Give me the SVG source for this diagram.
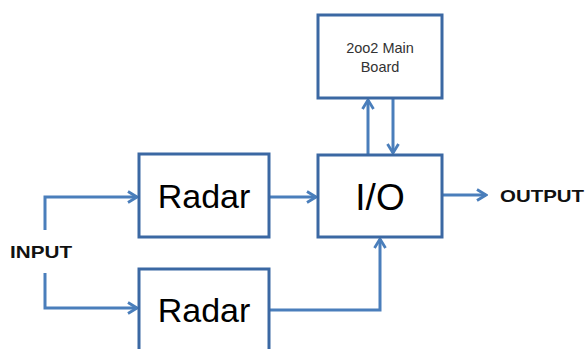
<svg xmlns="http://www.w3.org/2000/svg" width="587" height="349" viewBox="0 0 587 349">
<defs>
<marker id="arr" viewBox="0 0 14 14" refX="12" refY="7" markerWidth="14" markerHeight="14" markerUnits="userSpaceOnUse" orient="auto">
<polyline points="3,1.5 12,7 3,12.5" fill="none" stroke="#4a7ebb" stroke-width="2.8"/>
</marker>
<style>
.box{fill:#fff;stroke:#3b68a3;stroke-width:3}
.ln{fill:none;stroke:#4a7ebb;stroke-width:3}
.big{font-family:"Liberation Sans",Arial,sans-serif;font-size:34px;fill:#000;text-anchor:middle}
.lbl{font-family:"Liberation Sans",Arial,sans-serif;font-size:17px;font-weight:bold;fill:#111}
.sm{font-family:"Liberation Sans",Arial,sans-serif;font-size:14.5px;fill:#333;text-anchor:middle}
</style>
</defs>
<rect width="587" height="349" fill="#fff"/>
<g id="connectors">
<polyline class="ln" points="45,230 45,197 137,197" marker-end="url(#arr)"/>
<polyline class="ln" points="45,273 45,308 137,308" marker-end="url(#arr)"/>
<line class="ln" x1="269" y1="197" x2="316" y2="197" marker-end="url(#arr)"/>
<polyline class="ln" points="269,310 380,310 380,239" marker-end="url(#arr)"/>
<line class="ln" x1="442" y1="195" x2="486" y2="195" marker-end="url(#arr)"/>
<line class="ln" x1="368" y1="155" x2="368" y2="100" marker-end="url(#arr)"/>
<line class="ln" x1="393" y1="98" x2="393" y2="153" marker-end="url(#arr)"/>
</g>
<g id="mainboard">
<rect class="box" x="318" y="15" width="124" height="83"/>
<text class="sm" x="380" y="53">2oo2 Main</text>
<text class="sm" x="380" y="72">Board</text>
</g>
<g id="radar1">
<rect class="box" x="139" y="154" width="130" height="83"/>
<text class="big" x="204" y="208">Radar</text>
</g>
<g id="radar2">
<rect class="box" x="139" y="269" width="130" height="90"/>
<text class="big" x="204" y="322">Radar</text>
</g>
<g id="io">
<rect class="box" x="318" y="155" width="124" height="82"/>
<text class="big" x="380" y="210" style="font-size:37px">I/O</text>
</g>
<g id="input">
<text class="lbl" x="10" y="258" textLength="62" lengthAdjust="spacingAndGlyphs">INPUT</text>
</g>
<g id="output">
<text class="lbl" x="500" y="202" textLength="84" lengthAdjust="spacingAndGlyphs">OUTPUT</text>
</g>
</svg>
